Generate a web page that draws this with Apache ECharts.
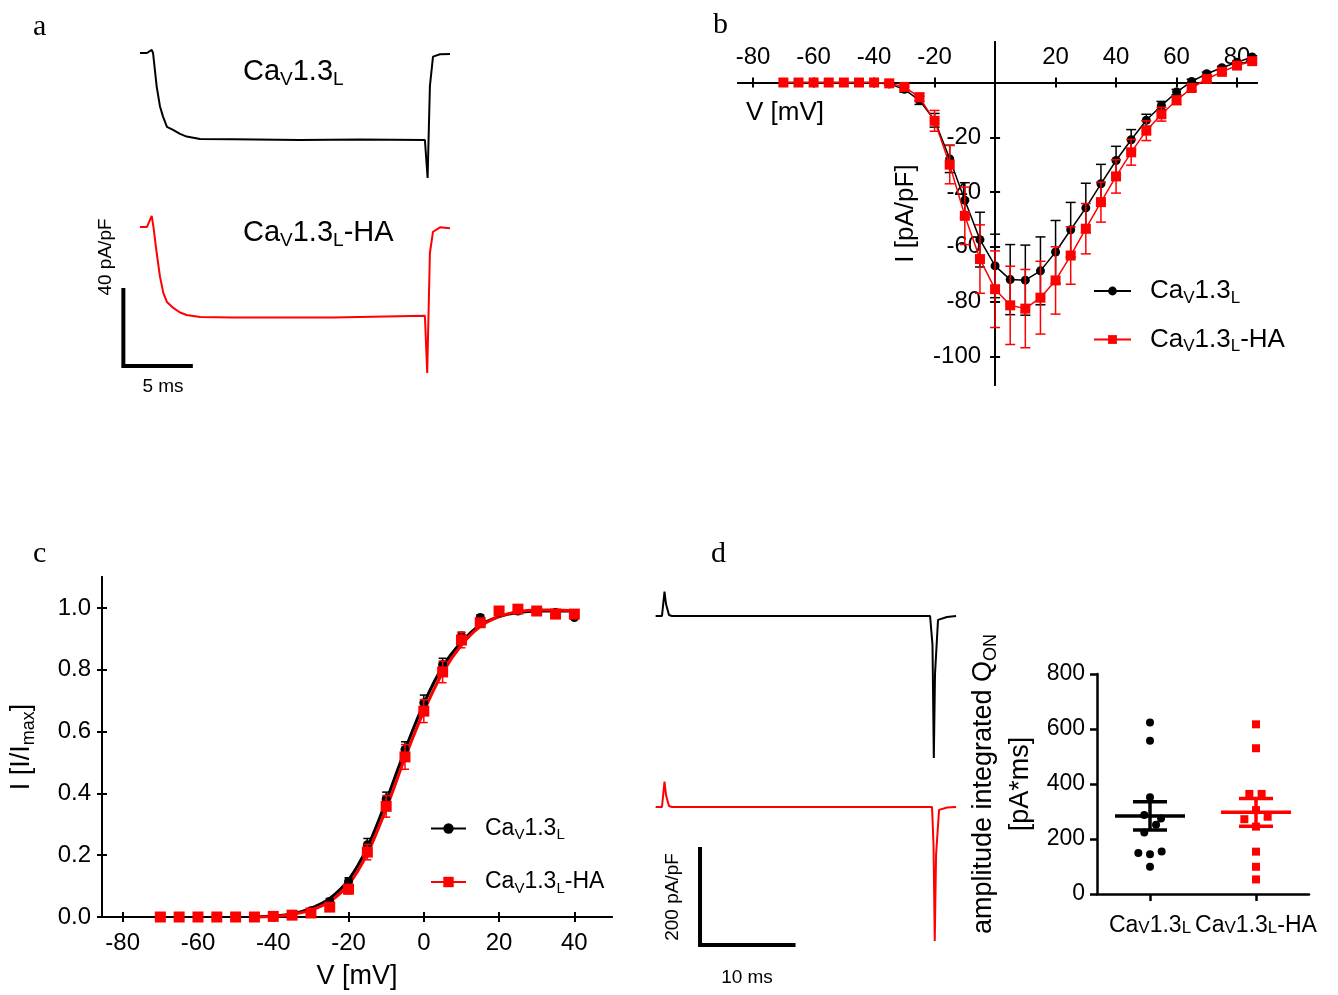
<!DOCTYPE html>
<html>
<head>
<meta charset="utf-8">
<title>CaV1.3L currents</title>
<script src="https://cdn.jsdelivr.net/npm/echarts@6/dist/echarts.min.js"></script>
<style>
  html, body { margin: 0; background: #fff; }
  #main { width: 1338px; height: 995px; }
</style>
</head>
<body>
<div id="main"></div>
<script>
// ---- a: representative ICa traces (time in ms, current in pA/pF) ----
const aBlackT = [2.96, 3.48, 3.83, 3.93, 4.2, 4.44, 4.67, 4.96, 5.41, 5.93, 6.42, 7.41, 9.85, 14.8, 19.3, 24.07, 24.27, 24.44, 24.67, 25.19, 25.93]
const aBlackI = [0, 0, 1.6, 0, -17.7, -28, -33.5, -38.9, -40.5, -42.6, -44, -45.3, -45.4, -45.8, -45.5, -45.8, -65.8, -17.5, -1.9, -0.7, -0.5]
const aRedT = [2.96, 3.48, 3.83, 3.96, 4.2, 4.44, 4.69, 4.96, 5.43, 5.93, 6.42, 7.41, 9.85, 17.26, 24.07, 24.24, 24.44, 24.67, 25.19, 25.93]
const aRedI = [0, 0, 5.8, 0, -13.7, -26, -34.7, -39.5, -42.6, -45, -46.3, -47.4, -47.7, -47.7, -46.7, -76.8, -13.7, -2.5, -0.2, -0.7]
const aScaleMs = 5
const aScalePA = 40

// ---- b: I-V relationship ----
const ivV = [-70, -65, -60, -55, -50, -45, -40, -35, -30, -25, -20, -15, -10, -5, 0, 5, 10, 15, 20, 25, 30, 35, 40, 45, 50, 55, 60, 65, 70, 75, 80, 85]
const ivBlack = [0, 0, 0, 0, 0, 0, 0, -0.5, -2.5, -6.5, -13.8, -27.9, -43, -57.4, -67, -72, -72.2, -68.8, -61.9, -53.8, -45.8, -37, -28.5, -20.9, -13.8, -8.4, -3.5, 0.4, 3.2, 5.4, 7.4, 9.3]
const ivBlackSem = [0, 0, 0, 0, 0, 0, 0, 0.5, 1, 1.5, 2.5, 5, 6.4, 10, 11.6, 12.8, 12.8, 12.4, 11.5, 10, 9, 7.1, 5.2, 3.7, 2.2, 1.5, 1, 0.8, 0.6, 0.5, 0.5, 0.5]
const ivRed = [0, 0, 0, 0, 0, 0, 0, -0.3, -1.6, -5.4, -14, -30, -48.7, -64.5, -75.5, -81.4, -82.6, -78.6, -72.3, -63.2, -53.4, -43.7, -34.3, -25.5, -17.6, -11.6, -6.5, -2, 1.3, 3.9, 6.2, 7.8]
const ivRedSem = [0, 0, 0, 0, 0, 0, 0, 0.5, 1, 1.5, 3.8, 7, 10.5, 12.5, 14, 14.3, 14.3, 13.3, 12.3, 10.5, 9.2, 7.3, 6.1, 4.7, 3.6, 2.5, 1.5, 1, 0.8, 0.6, 0.5, 0.5]
const ivXTicks = [-80, -60, -40, -20, 20, 40, 60, 80]
const ivYTicks = [-100, -80, -60, -40, -20]

// ---- c: normalized activation ----
const actV = [-70, -65, -60, -55, -50, -45, -40, -35, -30, -25, -20, -15, -10, -5, 0, 5, 10, 15, 20, 25, 30, 35, 40]
const actBlack = [0, 0, 0, 0, 0, 0, 0.003, 0.008, 0.02, 0.05, 0.115, 0.234, 0.382, 0.542, 0.693, 0.817, 0.909, 0.969, 0.985, 0.99, 0.99, 0.985, 0.969]
const actBlackSem = [0, 0, 0, 0, 0, 0, 0.002, 0.004, 0.006, 0.01, 0.012, 0.02, 0.022, 0.025, 0.025, 0.02, 0.012, 0.008, 0.005, 0.004, 0.003, 0.003, 0.004]
const actRed = [0, 0, 0, 0, 0, 0, 0.002, 0.006, 0.013, 0.032, 0.09, 0.21, 0.358, 0.518, 0.666, 0.793, 0.896, 0.952, 0.99, 0.996, 0.99, 0.98, 0.98]
const actRedSem = [0, 0, 0, 0, 0, 0, 0.002, 0.004, 0.008, 0.012, 0.015, 0.025, 0.035, 0.04, 0.037, 0.035, 0.025, 0.012, 0.006, 0.005, 0.005, 0.008, 0.01]
const fitV = [-45, -40, -35, -30, -25, -20, -15, -10, -5, 0, 5, 10, 15, 20, 25, 30, 35, 40]
const fitBlack = [0, 0.003, 0.01, 0.028, 0.06, 0.12, 0.225, 0.375, 0.54, 0.69, 0.81, 0.89, 0.945, 0.972, 0.985, 0.99, 0.99, 0.99]
const fitRed = [0, 0.002, 0.008, 0.022, 0.05, 0.105, 0.205, 0.35, 0.515, 0.665, 0.79, 0.88, 0.94, 0.972, 0.988, 0.993, 0.993, 0.99]
const actXTicks = [-80, -60, -40, -20, 0, 20, 40]
const actYTicks = [0, 0.2, 0.4, 0.6, 0.8, 1.0]

// ---- d: gating currents + integrated Q_ON ----
const dBlackT = [1.67, 2.35, 2.62, 2.78, 3.1, 3.42, 31.02, 31.28, 31.42, 31.55, 31.87, 32.83, 33.8]
const dBlackI = [0, 0, 50.6, 25, 2, 0, 0, -60, -296, -120, -8, -2, 0]
const dRedT = [1.67, 2.35, 2.62, 2.78, 3.1, 3.42, 31.23, 31.39, 31.52, 31.66, 31.98, 32.83, 33.8]
const dRedI = [0, 0, 52.7, 25, 2, 0, 0, -80, -279, -100, -6, -1, 0]
const dScaleMs = 10
const dScalePA = 200

const qGroups = ['CaV1.3L', 'CaV1.3L-HA']
const qBlack = [624, 557, 352, 287, 275, 252, 224, 149, 145, 155, 99]
const qBlackJitter = [0, 0, 0, -0.054, 0.104, 0.057, -0.054, -0.11, 0, 0.11, 0]
const qRed = [617, 530, 364, 364, 305, 272, 281, 245, 154, 99, 53]
const qRedJitter = [0, 0, -0.063, 0.053, 0, -0.11, 0.11, 0, 0, 0, 0]
const qMean = [284, 297]
const qSem = [51.5, 50.5]
const qYTicks = [0, 200, 400, 600, 800]

const SANS = 'Liberation Sans, Arial, sans-serif'
const SERIF = 'Liberation Serif, Times New Roman, serif'
const RED = '#ff0000'
const BLACK = '#000000'

// rich text with V/L subscripts
function richSet(size, extra) {
    const sub = Math.round(size * 0.65)
    return Object.assign({
        n: { fontSize: size, fontFamily: SANS, color: BLACK, fill: BLACK },
        s: { fontSize: sub, fontFamily: SANS, color: BLACK, fill: BLACK, padding: [Math.round(size * 0.55), 0, 0, 0] },
        v: { fontSize: sub + 2, fontFamily: SANS, color: BLACK, fill: BLACK, padding: [Math.round(size * 0.25), 0, 0, 0] },
        gap: { width: 14 }
    }, extra || {})
}
function caRich(name, sub) {
    const rest = name.slice(7)
    return '{n|Ca}{' + sub + '|V}{n|1.3}{' + sub + '|L}' + (rest ? '{n|' + rest + '}' : '')
}
const zip = (xs, ys) => xs.map((x, i) => [x, ys[i]])
const zip3 = (xs, ys, es) => xs.map((x, i) => [x, ys[i], es[i]])

function errorBars(data, xi, cap, color, width, z) {
    return {
        type: 'custom',
        xAxisIndex: xi,
        yAxisIndex: xi,
        z: z,
        data: data,
        renderItem: function (params, api) {
            const x = api.value(0), y = api.value(1), e = api.value(2)
            if (!e) return
            const lo = api.coord([x, y - e])
            const hi = api.coord([x, y + e])
            const st = { stroke: color, lineWidth: width }
            return {
                type: 'group',
                children: [
                    { type: 'line', shape: { x1: lo[0], y1: lo[1], x2: hi[0], y2: hi[1] }, style: st },
                    { type: 'line', shape: { x1: lo[0] - cap, y1: lo[1], x2: lo[0] + cap, y2: lo[1] }, style: st },
                    { type: 'line', shape: { x1: hi[0] - cap, y1: hi[1], x2: hi[0] + cap, y2: hi[1] }, style: st }
                ]
            }
        }
    }
}

const axisLineStyle = { color: BLACK, width: 2 }
function hiddenAxis(grid, min, max) {
    return { type: 'value', gridIndex: grid, min: min, max: max, show: false }
}

// panel b: axes cross at (0, 0) inside the plot, placed with offsets
const bGrid = { left: 738, top: 42, width: 519, height: 343 }
const bXRange = [-85, 86.6]
const bYRange = [-110.5, 14.8]
const bZeroY = bGrid.height * bYRange[1] / (bYRange[1] - bYRange[0])   // from top
const bZeroX = bGrid.width * -bXRange[0] / (bXRange[1] - bXRange[0])   // from left

const chart = echarts.init(document.getElementById('main'), null, { renderer: 'canvas' })

const option = {
    animation: false,
    backgroundColor: '#fff',
    textStyle: { fontFamily: SANS },
    grid: [
        { left: 100, top: 30, width: 360, height: 170 },
        { left: 100, top: 200, width: 360, height: 190 },
        bGrid,
        { left: 102, top: 577, width: 510, height: 340 },
        { left: 640, top: 580, width: 330, height: 190 },
        { left: 640, top: 770, width: 330, height: 180 },
        { left: 1097, top: 674, width: 212, height: 220 }
    ],
    xAxis: [
        hiddenAxis(0, 0, 26.67),
        hiddenAxis(1, 0, 26.67),
        {
            type: 'value', gridIndex: 2, min: bXRange[0], max: bXRange[1], position: 'bottom',
            offset: -(bGrid.height - bZeroY),
            axisLine: { show: true, onZero: false, lineStyle: axisLineStyle },
            axisTick: { show: true, customValues: ivXTicks, length: 5, lineStyle: axisLineStyle },
            axisLabel: { customValues: ivXTicks, inside: true, margin: 13, fontSize: 24, color: BLACK, fontFamily: SANS },
            splitLine: { show: false }
        },
        {
            type: 'value', gridIndex: 3, min: -85.5, max: 50, position: 'bottom',
            axisLine: { show: true, onZero: false, lineStyle: axisLineStyle },
            axisTick: { show: true, customValues: actXTicks, length: 5, lineStyle: axisLineStyle },
            axisLabel: { customValues: actXTicks, margin: 14, fontSize: 24, color: BLACK, fontFamily: SANS },
            splitLine: { show: false },
            name: 'V [mV]', nameLocation: 'middle', nameGap: 46,
            nameTextStyle: { fontSize: 27, color: BLACK, fontFamily: SANS }
        },
        hiddenAxis(4, 0, 35.29),
        hiddenAxis(5, 0, 35.29),
        {
            type: 'value', gridIndex: 6, min: 0.5, max: 2.5, position: 'bottom',
            axisLine: { show: true, onZero: false, lineStyle: { color: BLACK, width: 2.5 } },
            axisTick: { show: true, customValues: [1, 2], length: 7, lineStyle: { color: BLACK, width: 2.5 } },
            axisLabel: {
                customValues: [1, 2], margin: 20, color: BLACK,
                formatter: v => caRich(qGroups[Math.round(v) - 1], 'v'),
                rich: richSet(23)
            },
            splitLine: { show: false }
        },
        {
            type: 'value', gridIndex: 2, min: bXRange[0], max: bXRange[1], position: 'top',
            offset: -bZeroY,
            axisLine: { show: true, onZero: false, lineStyle: axisLineStyle },
            axisTick: { show: true, customValues: ivXTicks, length: 5, lineStyle: axisLineStyle },
            axisLabel: { show: false },
            splitLine: { show: false }
        },
        {
            type: 'value', gridIndex: 3, min: -85.5, max: 50, position: 'top', offset: -340,
            axisLine: { show: true, onZero: false, lineStyle: axisLineStyle },
            axisTick: { show: true, customValues: actXTicks, length: 5, lineStyle: axisLineStyle },
            axisLabel: { show: false },
            splitLine: { show: false }
        }
    ],
    yAxis: [
        hiddenAxis(0, -77.4, 12.1),
        hiddenAxis(1, -85.8, 14.2),
        {
            type: 'value', gridIndex: 2, min: bYRange[0], max: bYRange[1], position: 'left',
            offset: -bZeroX,
            axisLine: { show: true, onZero: false, lineStyle: axisLineStyle },
            axisTick: { show: true, customValues: ivYTicks, length: 5, lineStyle: axisLineStyle },
            axisLabel: { customValues: ivYTicks, margin: 14, fontSize: 24, color: BLACK, fontFamily: SANS },
            splitLine: { show: false },
            name: 'I [pA/pF]', nameLocation: 'middle', nameRotate: 90, nameGap: 76,
            nameTextStyle: { fontSize: 26, color: BLACK, fontFamily: SANS }
        },
        {
            type: 'value', gridIndex: 3, min: 0, max: 1.1, position: 'left',
            axisLine: { show: true, onZero: false, lineStyle: axisLineStyle },
            axisTick: { show: true, customValues: actYTicks, length: 5, lineStyle: axisLineStyle },
            axisLabel: { customValues: actYTicks, margin: 11, fontSize: 24, color: BLACK, fontFamily: SANS, formatter: v => v.toFixed(1) },
            splitLine: { show: false },
            name: '{n|I [I/I}{s|max}{n|]}', nameLocation: 'middle', nameRotate: 90, nameGap: 64,
            nameTextStyle: { rich: richSet(27) }
        },
        hiddenAxis(4, -320.8, 75),
        hiddenAxis(5, -297.9, 77.1),
        {
            type: 'value', gridIndex: 6, min: 0, max: 800, interval: 200, position: 'left',
            axisLine: { show: true, onZero: false, lineStyle: { color: BLACK, width: 2.5 } },
            axisTick: { show: true, length: 7, lineStyle: { color: BLACK, width: 2.5 } },
            axisLabel: { customValues: qYTicks, margin: 12, fontSize: 23, color: BLACK, fontFamily: SANS },
            splitLine: { show: false },
            name: '{n|amplitude integrated Q}{s|ON}\n{n|[pA*ms]}', nameLocation: 'middle', nameRotate: 90, nameGap: 58,
            nameTextStyle: { rich: richSet(27, { n: { fontSize: 27, fontFamily: SANS, color: BLACK, lineHeight: 37 } }) }
        },
        {
            type: 'value', gridIndex: 2, min: bYRange[0], max: bYRange[1], position: 'right',
            offset: -(bGrid.width - bZeroX),
            axisLine: { show: true, onZero: false, lineStyle: axisLineStyle },
            axisTick: { show: true, customValues: ivYTicks, length: 5, lineStyle: axisLineStyle },
            axisLabel: { show: false },
            splitLine: { show: false }
        },
        {
            type: 'value', gridIndex: 3, min: 0, max: 1.1, position: 'right', offset: -510,
            axisLine: { show: true, onZero: false, lineStyle: axisLineStyle },
            axisTick: { show: true, customValues: actYTicks, length: 5, lineStyle: axisLineStyle },
            axisLabel: { show: false },
            splitLine: { show: false }
        }
    ],
    legend: [
        {
            data: ['b:CaV1.3L', 'b:CaV1.3L-HA'],
            orient: 'vertical', left: 1088, top: 273, itemGap: 20,
            itemWidth: 37, itemHeight: 11,
            formatter: name => '{gap|}' + caRich(name.split(':')[1], 's'),
            textStyle: { rich: richSet(26) }
        },
        {
            data: ['c:CaV1.3L', 'c:CaV1.3L-HA'],
            orient: 'vertical', left: 425, top: 812, itemGap: 28,
            itemWidth: 35, itemHeight: 13,
            formatter: name => '{gap|}' + caRich(name.split(':')[1], 's'),
            textStyle: { rich: richSet(23) }
        }
    ],
    graphic: [
        { type: 'text', x: 33, y: 12, style: { text: 'a', fontSize: 30, fontFamily: SERIF, fill: BLACK } },
        { type: 'text', x: 713, y: 10, style: { text: 'b', fontSize: 30, fontFamily: SERIF, fill: BLACK } },
        { type: 'text', x: 33, y: 539, style: { text: 'c', fontSize: 30, fontFamily: SERIF, fill: BLACK } },
        { type: 'text', x: 711, y: 539, style: { text: 'd', fontSize: 30, fontFamily: SERIF, fill: BLACK } },
        { type: 'text', x: 243, y: 72, style: { text: caRich('CaV1.3L', 's'), verticalAlign: 'middle', rich: richSet(29) } },
        { type: 'text', x: 243, y: 233, style: { text: caRich('CaV1.3L-HA', 's'), verticalAlign: 'middle', rich: richSet(29) } },
        { type: 'text', x: 106, y: 257, rotation: Math.PI / 2, style: { text: '40 pA/pF', fontSize: 19, fontFamily: SANS, fill: BLACK, align: 'center', verticalAlign: 'middle' } },
        { type: 'text', x: 163, y: 387, style: { text: '5 ms', fontSize: 19, fontFamily: SANS, fill: BLACK, align: 'center', verticalAlign: 'middle' } },
        { type: 'text', x: 746, y: 113, style: { text: 'V [mV]', fontSize: 26, fontFamily: SANS, fill: BLACK, verticalAlign: 'middle' } },
        { type: 'text', x: 673, y: 897, rotation: Math.PI / 2, style: { text: '200 pA/pF', fontSize: 19, fontFamily: SANS, fill: BLACK, align: 'center', verticalAlign: 'middle' } },
        { type: 'text', x: 747, y: 978, style: { text: '10 ms', fontSize: 19, fontFamily: SANS, fill: BLACK, align: 'center', verticalAlign: 'middle' } }
    ],
    series: [
        // a
        { type: 'line', xAxisIndex: 0, yAxisIndex: 0, data: zip(aBlackT, aBlackI), symbol: 'none', lineStyle: { color: BLACK, width: 2 } },
        { type: 'line', xAxisIndex: 1, yAxisIndex: 1, data: zip(aRedT, aRedI), symbol: 'none', lineStyle: { color: RED, width: 2 } },
        {
            type: 'line', xAxisIndex: 1, yAxisIndex: 1, symbol: 'none',
            lineStyle: { color: BLACK, width: 4, join: 'miter', cap: 'square' },
            data: [[1.73, -33.2], [1.73, -33.2 - aScalePA], [1.73 + aScaleMs, -33.2 - aScalePA]]
        },
        // b
        errorBars(zip3(ivV, ivBlack, ivBlackSem), 2, 5, BLACK, 1.5, 3),
        {
            name: 'b:CaV1.3L', type: 'line', xAxisIndex: 2, yAxisIndex: 2, z: 3,
            data: zip(ivV, ivBlack), symbol: 'circle', symbolSize: 9,
            itemStyle: { color: BLACK }, lineStyle: { color: BLACK, width: 1.5 }
        },
        errorBars(zip3(ivV, ivRed, ivRedSem), 2, 5, RED, 1.5, 4),
        {
            name: 'b:CaV1.3L-HA', type: 'line', xAxisIndex: 2, yAxisIndex: 2, z: 4,
            data: zip(ivV, ivRed), symbol: 'rect', symbolSize: 10,
            itemStyle: { color: RED }, lineStyle: { color: RED, width: 1.5 }
        },
        // c
        {
            name: 'c:CaV1.3L', type: 'line', xAxisIndex: 3, yAxisIndex: 3, z: 2,
            data: zip(fitV, fitBlack), smooth: 0.3, symbol: 'circle', showSymbol: false,
            itemStyle: { color: BLACK }, lineStyle: { color: BLACK, width: 3 }
        },
        {
            name: 'c:CaV1.3L-HA', type: 'line', xAxisIndex: 3, yAxisIndex: 3, z: 2,
            data: zip(fitV, fitRed), smooth: 0.3, symbol: 'rect', showSymbol: false,
            itemStyle: { color: RED }, lineStyle: { color: RED, width: 3 }
        },
        errorBars(zip3(actV, actBlack, actBlackSem), 3, 4, BLACK, 1.5, 3),
        {
            name: 'c:CaV1.3L', type: 'scatter', xAxisIndex: 3, yAxisIndex: 3, z: 3,
            data: zip(actV, actBlack), symbol: 'circle', symbolSize: 9, itemStyle: { color: BLACK, opacity: 1 }
        },
        errorBars(zip3(actV, actRed, actRedSem), 3, 4, RED, 1.5, 4),
        {
            name: 'c:CaV1.3L-HA', type: 'scatter', xAxisIndex: 3, yAxisIndex: 3, z: 4,
            data: zip(actV, actRed), symbol: 'rect', symbolSize: 11, itemStyle: { color: RED, opacity: 1 }
        },
        // d traces
        { type: 'line', xAxisIndex: 4, yAxisIndex: 4, data: zip(dBlackT, dBlackI), symbol: 'none', lineStyle: { color: BLACK, width: 2 } },
        { type: 'line', xAxisIndex: 5, yAxisIndex: 5, data: zip(dRedT, dRedI), symbol: 'none', lineStyle: { color: RED, width: 2 } },
        {
            type: 'line', xAxisIndex: 5, yAxisIndex: 5, symbol: 'none',
            lineStyle: { color: BLACK, width: 4, join: 'miter', cap: 'square' },
            data: [[6.42, -87.5], [6.42, -87.5 - dScalePA], [6.42 + dScaleMs, -87.5 - dScalePA]]
        },
        // d scatter
        {
            type: 'scatter', xAxisIndex: 6, yAxisIndex: 6, z: 3,
            data: qBlack.map((v, i) => [1 + qBlackJitter[i], v]),
            symbol: 'circle', symbolSize: 8, itemStyle: { color: BLACK, opacity: 1 }
        },
        {
            type: 'scatter', xAxisIndex: 6, yAxisIndex: 6, z: 3,
            data: qRed.map((v, i) => [2 + qRedJitter[i], v]),
            symbol: 'rect', symbolSize: 8, itemStyle: { color: RED, opacity: 1 }
        },
        {
            type: 'custom', xAxisIndex: 6, yAxisIndex: 6, z: 4,
            data: qMean.map((m, i) => [i + 1, m, qSem[i]]),
            renderItem: function (params, api) {
                const x = api.value(0), m = api.value(1), e = api.value(2)
                const c = api.coord([x, m])
                const hi = api.coord([x, m + e])
                const lo = api.coord([x, m - e])
                const st = { stroke: params.dataIndex === 0 ? BLACK : RED, lineWidth: 3.5 }
                return {
                    type: 'group',
                    children: [
                        { type: 'line', shape: { x1: c[0] - 35, y1: c[1], x2: c[0] + 35, y2: c[1] }, style: st },
                        { type: 'line', shape: { x1: hi[0], y1: hi[1], x2: lo[0], y2: lo[1] }, style: st },
                        { type: 'line', shape: { x1: hi[0] - 17, y1: hi[1], x2: hi[0] + 17, y2: hi[1] }, style: st },
                        { type: 'line', shape: { x1: lo[0] - 17, y1: lo[1], x2: lo[0] + 17, y2: lo[1] }, style: st }
                    ]
                }
            }
        }
    ]
}

chart.setOption(option)
</script>
</body>
</html>
